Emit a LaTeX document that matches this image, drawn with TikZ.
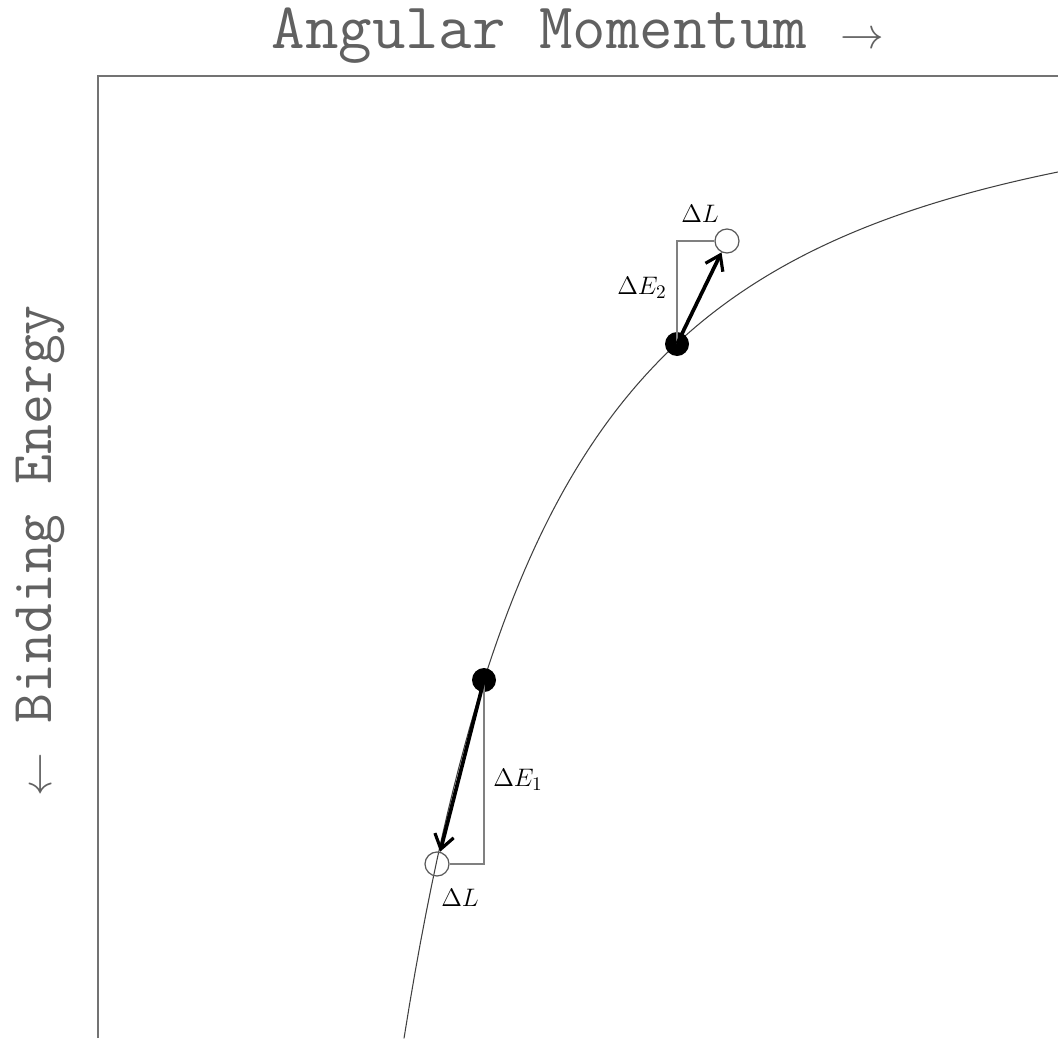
\documentclass[tikz,border=0pt]{standalone}
\usepackage{amsmath}
\usepackage{xcolor}
\usepackage{tikz}
\usetikzlibrary{arrows.meta}

\begin{document}
\begin{tikzpicture}[
    x=0.02cm, y=-0.02cm,
    axis/.style={draw=black!55, line width=1.1pt},
    orbit/.style={draw=black!75, line width=0.6pt},
    guide/.style={draw=black!50, line width=0.8pt},
    before/.style={circle, fill=black, minimum size=0.48cm, inner sep=0pt},
    after/.style={circle, draw=black!65, line width=0.7pt, minimum size=0.48cm, inner sep=0pt},
    kick/.style={-{Straight Barb[length=8pt,width=11pt,line width=1.8pt]}, line width=2.1pt},
    title/.style={text=black!62, font=\ttfamily\fontsize{37}{40}\selectfont},
    dlab/.style={font=\fontsize{15}{17}\selectfont}
]
\useasboundingbox (0,0) rectangle (1058,1038);

% Axis titles
\node[title] (xlab) at (578,36) {Angular Momentum $\rightarrow$};
\node[title, rotate=90, font=\ttfamily\fontsize{33}{36}\selectfont] (ylab) at (40,551) {$\leftarrow$ Binding Energy};

% Frame
\draw[axis] (98,1038) |- (1058,76);

% Circular orbit curve
\draw[orbit] plot[domain=3.06:9.6, samples=120] ({98+100*\x},{74+9030/(\x*\x)});

% Orbits before and after
\node[before] (f1) at (484,680) {};
\node[before] (f2) at (677,344) {};
\node[after] (o1) at (437,864) {};
\node[after] (o2) at (727,241) {};

% Energy and momentum steps
\draw[guide] (f1.center) |- (o1.east);
\draw[guide] (f2.center) |- (o2.west);
\draw[kick] (f1.center) -- (o1);
\draw[kick] (f2.center) -- (o2);

% Labels
\node[dlab] (de1) at (518,780) {$\Delta E_1$};
\node[dlab] (dl1) at (460,898) {$\Delta L$};
\node[dlab] (de2) at (642,288) {$\Delta E_2$};
\node[dlab] (dl2) at (700,214) {$\Delta L$};

\end{tikzpicture}
\end{document}
